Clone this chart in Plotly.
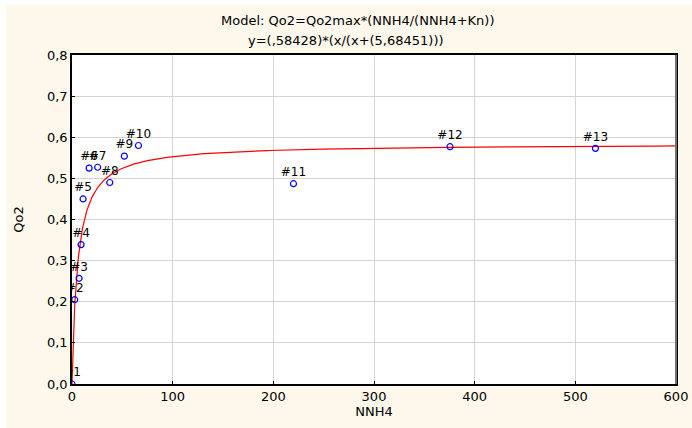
import numpy as np
import plotly.graph_objects as go

# Observations (NNH4 vs Qo2), labelled #1..#13
labels = ["#1", "#2", "#3", "#4", "#5", "#6", "#7", "#8", "#9", "#10", "#11", "#12", "#13"]
nnh4 = [0, 2.7, 7, 9, 11, 17, 25.5, 37.5, 52, 66, 220, 375.5, 520]
qo2 = [0.0, 0.205, 0.257, 0.339, 0.450, 0.525, 0.527, 0.490, 0.554, 0.580, 0.487, 0.577, 0.573]

# Fitted Michaelis-Menten type model
qo2max = 0.58428
kn = 5.68451
x_fit = np.linspace(0, 600, 1201)
y_fit = qo2max * x_fit / (x_fit + kn)

title_lines = ["Model: Qo2=Qo2max*(NNH4/(NNH4+Kn))", "y=(,58428)*(x/(x+(5,68451)))"]

CREAM = "#FDF8EB"
FONT = "DejaVu Sans, Liberation Sans, Arial, sans-serif"

fig = go.Figure()
fig.add_trace(go.Scatter(
    x=x_fit, y=y_fit, mode="lines",
    line=dict(color="#FF0000", width=1.2),
    hoverinfo="skip", showlegend=False,
))
fig.add_trace(go.Scatter(
    x=nnh4, y=qo2, mode="markers+text",
    text=labels, textposition="top center",
    textfont=dict(family=FONT, size=12, color="#000000"),
    marker=dict(symbol="circle-open", size=6, color="#0000FF", line=dict(width=1.2, color="#0000FF")),
    showlegend=False,
))

axis_common = dict(
    showline=True, linecolor="#000000", linewidth=1.5, mirror=True,
    showgrid=True, gridcolor="#D3D3D3", gridwidth=1,
    ticks="inside", ticklen=3, tickcolor="#000000",
    zeroline=False, automargin=False,
    tickfont=dict(family=FONT, size=13, color="#000000"),
    title_font=dict(family=FONT, size=13, color="#000000"),
)

fig.update_layout(
    width=692, height=428,
    margin=dict(l=72, r=16, t=55, b=44),
    paper_bgcolor=CREAM, plot_bgcolor="#FFFFFF",
    separators=", ",
    xaxis=dict(range=[0, 600], dtick=100, title=dict(text="NNH4", standoff=4), **axis_common),
    yaxis=dict(range=[0, 0.8], dtick=0.1, tickformat=".1f", title=dict(text="Qo2", standoff=20), **axis_common),
    annotations=[
        dict(text=title_lines[0], xref="paper", yref="paper", x=0.4735, y=1.1035,
             xanchor="center", yanchor="middle", showarrow=False,
             font=dict(family=FONT, size=13, color="#000000")),
        dict(text=title_lines[1], xref="paper", yref="paper", x=0.4536, y=1.0426,
             xanchor="center", yanchor="middle", showarrow=False,
             font=dict(family=FONT, size=13, color="#000000")),
    ],
    shapes=[
        dict(type="rect", xref="paper", yref="paper", x0=-0.2, x1=-0.109, y0=-0.2, y1=1.3,
             fillcolor="#FFFFFF", line=dict(width=0), layer="below"),
        dict(type="rect", xref="paper", yref="paper", x0=-0.2, x1=1.2, y0=1.152, y1=1.3,
             fillcolor="#FFFFFF", line=dict(width=0), layer="below"),
        dict(type="line", xref="paper", yref="paper", x0=1, x1=1, y0=0, y1=1,
             line=dict(color="#707070", width=2), layer="above"),
    ],
)

fig.write_html("out.html")
